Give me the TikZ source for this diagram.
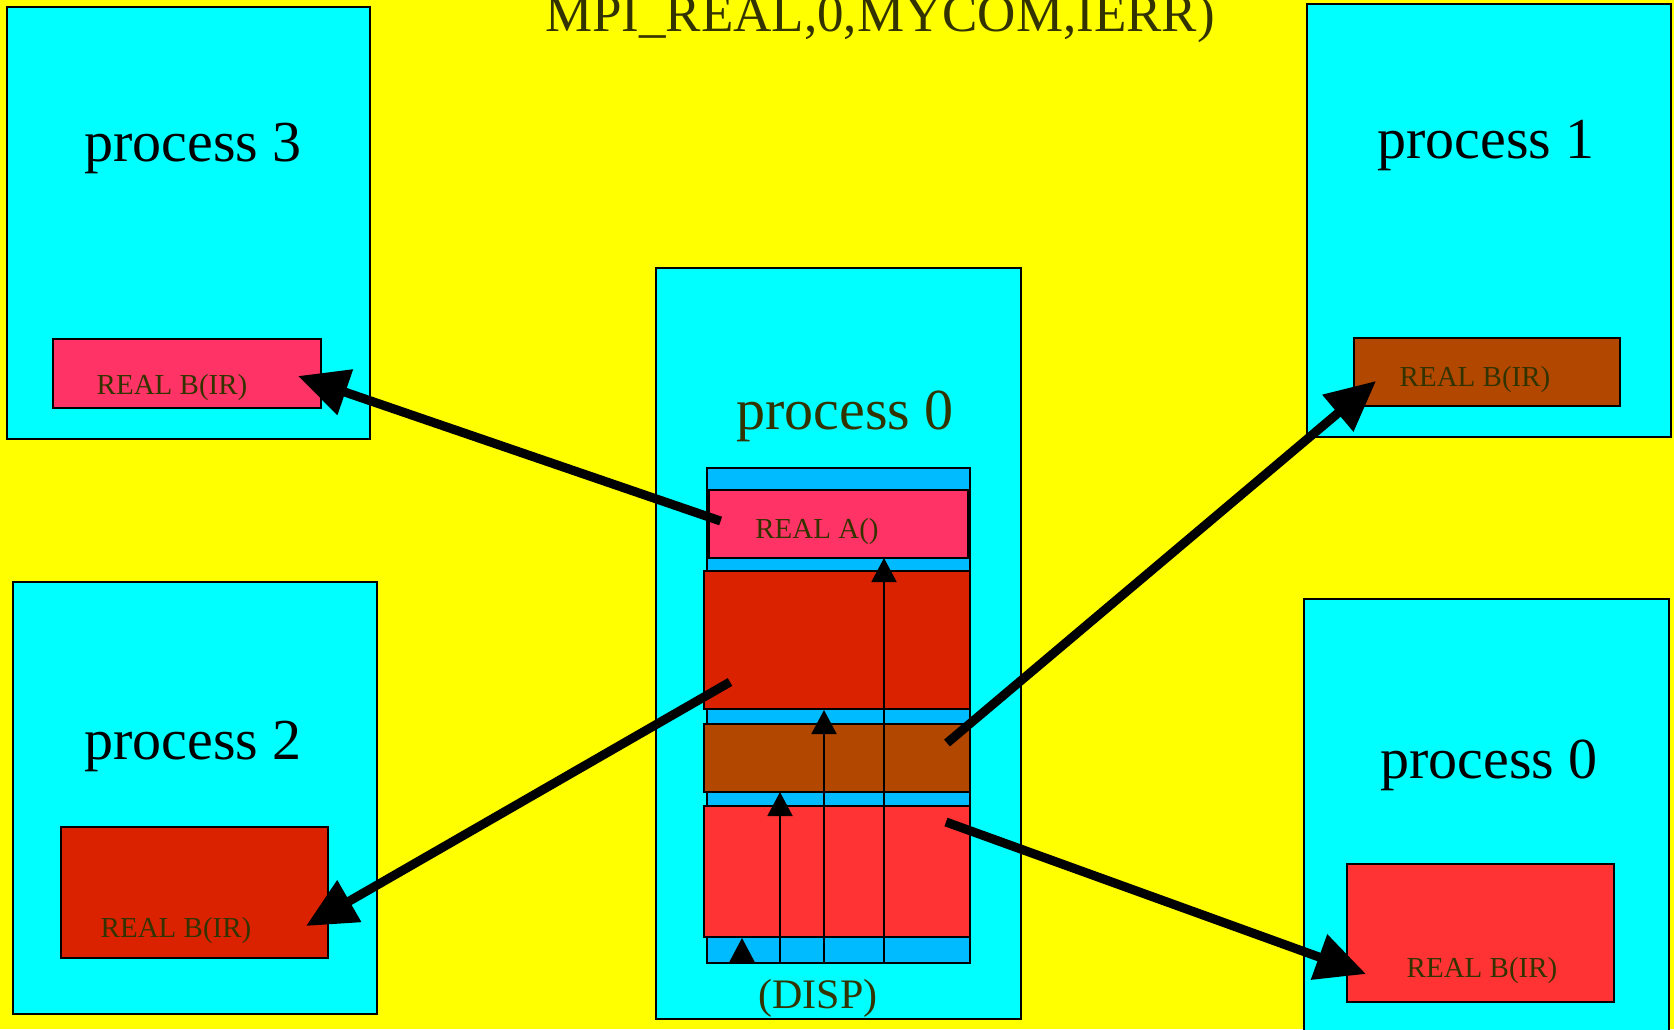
\documentclass[tikz,border=0pt]{standalone}
\usepackage{fontspec}
\setmainfont{Liberation Serif}
\usetikzlibrary{arrows.meta}
\definecolor{bgyellow}{HTML}{FFFF00}
\definecolor{proccyan}{HTML}{00FFFF}
\definecolor{pinkbox}{HTML}{FF3366}
\definecolor{darkredbox}{HTML}{DA2200}
\definecolor{brownbox}{HTML}{B24800}
\definecolor{lightredbox}{HTML}{FF3333}
\definecolor{bandblue}{HTML}{00BBFF}
\definecolor{olivetext}{HTML}{333300}
\tikzset{
  procbox/.style={draw=black, line width=1.8pt, fill=proccyan, anchor=north west, inner sep=0pt, outer sep=0pt},
  databox/.style={draw=black, line width=1.5pt, anchor=north west, inner sep=0pt, outer sep=0pt},
  proclabel/.style={anchor=base, inner sep=0pt, font=\fontsize{58}{60}\selectfont},
  reallabel/.style={anchor=base, inner sep=0pt, text=olivetext, font=\fontsize{29}{31}\selectfont},
  thinarrow/.style={line width=2pt, -{Triangle[length=24pt,width=25pt]}},
  thickarrow/.style={line width=9pt, -{Triangle[length=50pt,width=46pt]}}
}
\begin{document}
\begin{tikzpicture}[x=1pt,y=-1pt]
\useasboundingbox (0,0) rectangle (1674,1029);
\clip (0,0) rectangle (1674,1029);
\fill[bgyellow] (0,0) rectangle (1674,1029);

% process boxes
\node[procbox, minimum width=363pt, minimum height=432pt] (p3) at (7,7) {};
\node[procbox, minimum width=364pt, minimum height=433pt] (p1) at (1307,4) {};
\node[procbox, minimum width=364pt, minimum height=432pt] (p2) at (13,582) {};
\node[procbox, minimum width=365pt, minimum height=445pt] (p0r) at (1304,599) {};
\node[procbox, minimum width=365pt, minimum height=751pt] (p0) at (656,268) {};

% receive buffers
\node[databox, fill=pinkbox, minimum width=268pt, minimum height=69pt] (b3) at (53,339) {};
\node[databox, fill=brownbox, minimum width=266pt, minimum height=68pt] (b1) at (1354,338) {};
\node[databox, fill=darkredbox, minimum width=267pt, minimum height=131pt] (b2) at (61,827) {};
\node[databox, fill=lightredbox, minimum width=267pt, minimum height=138pt] (b0) at (1347,864) {};

% send buffer stack in process 0
\node[databox, fill=bandblue, minimum width=263pt, minimum height=495pt] (band) at (707,468) {};
\node[databox, fill=pinkbox, minimum width=259pt, minimum height=68pt] (ra) at (709,490) {};
\node[databox, fill=darkredbox, minimum width=266pt, minimum height=138pt] (s2) at (704,571) {};
\node[databox, fill=brownbox, minimum width=266pt, minimum height=68pt] (s1) at (704,724) {};
\node[databox, fill=lightredbox, minimum width=266pt, minimum height=131pt] (s0) at (704,806) {};

% displacement arrows
\coordinate (d0s) at (742,963); \coordinate (d0e) at (742,938);
\coordinate (d1s) at (780,963); \coordinate (d1e) at (780,792);
\coordinate (d2s) at (824,963); \coordinate (d2e) at (824,710);
\coordinate (d3s) at (884,963); \coordinate (d3e) at (884,558);
\draw[thinarrow] (d0s) -- (d0e);
\draw[thinarrow] (d1s) -- (d1e);
\draw[thinarrow] (d2s) -- (d2e);
\draw[thinarrow] (d3s) -- (d3e);

% scatter arrows
\coordinate (a3s) at (720.6,521); \coordinate (a3e) at (298,376);
\coordinate (a2s) at (730,682); \coordinate (a2e) at (306,926);
\coordinate (a1s) at (947,743); \coordinate (a1e) at (1376,381);
\coordinate (a0s) at (946,822); \coordinate (a0e) at (1366,974);
\draw[thickarrow] (a3s) -- (a3e);
\draw[thickarrow] (a2s) -- (a2e);
\draw[thickarrow] (a1s) -- (a1e);
\draw[thickarrow] (a0s) -- (a0e);

% labels
\node[anchor=base, inner sep=0pt, text=olivetext, font=\fontsize{53}{55}\selectfont] (title) at (880,31) {MPI\_REAL,0,MYCOM,IERR)};
\node[proclabel] (l3) at (193,161) {process 3};
\node[proclabel] (l1) at (1486,158) {process 1};
\node[proclabel] (l2) at (193,759) {process 2};
\node[proclabel] (l0r) at (1489,778) {process 0};
\node[proclabel, text=olivetext] (l0) at (845,429) {process 0};
\node[reallabel] (t3) at (172,394) {REAL B(IR)};
\node[reallabel] (t1) at (1475,386) {REAL B(IR)};
\node[reallabel] (t2) at (176,937) {REAL B(IR)};
\node[reallabel] (t0) at (1482,977) {REAL B(IR)};
\node[reallabel] (ta) at (817,538) {REAL A()};
\node[anchor=base, inner sep=0pt, text=olivetext, font=\fontsize{42}{44}\selectfont] (disp) at (818,1008) {(DISP)};
\end{tikzpicture}
\end{document}
